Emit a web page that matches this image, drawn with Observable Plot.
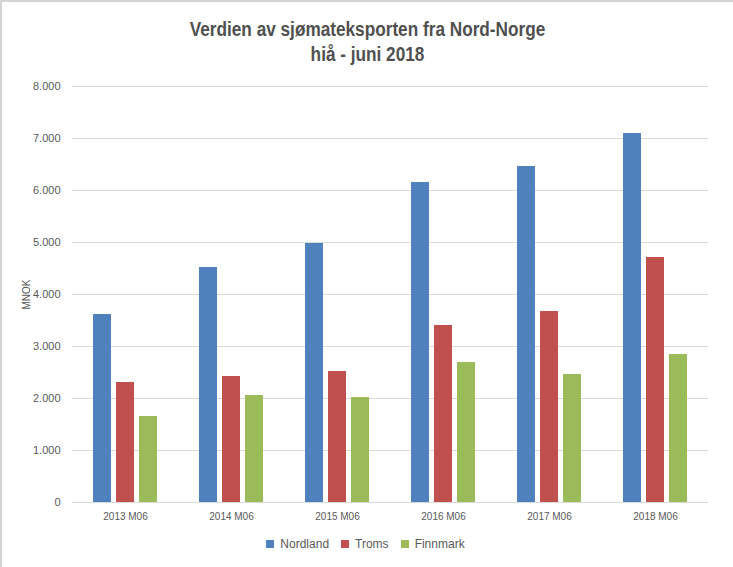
<!DOCTYPE html>
<html><head><meta charset="utf-8">
<script src="https://cdn.jsdelivr.net/npm/d3@7"></script>
<script src="https://cdn.jsdelivr.net/npm/@observablehq/plot@0.6"></script>
<style>
body{margin:0;background:#fff;}
#wrap{width:731px;height:565px;border-top:2px solid #d4d4d4;border-left:2px solid #d4d4d4;font-family:"Liberation Sans Narrow","Arial Narrow","Liberation Sans",sans-serif;color:#595959;overflow:hidden;}
#title{height:73px;box-sizing:border-box;padding-top:15px;text-align:center;font-size:20px;line-height:25px;font-weight:bold;color:#505050;transform:scaleX(0.86);transform-origin:center;}
#chart svg{display:block;}
#legend{display:flex;justify-content:center;padding-left:8px;height:24px;align-items:center;}
</style>
</head><body>
<div id="wrap">
<div id="title">Verdien av sjømateksporten fra Nord-Norge<br>hiå - juni 2018</div>
<div id="chart"></div>
<div id="legend"></div>
</div>
<script>
const years = ["2013 M06","2014 M06","2015 M06","2016 M06","2017 M06","2018 M06"];
const series = ["Nordland","Troms","Finnmark"];
const colors = ["#4f81bd","#c0504d","#9bbb59"];
const nordland = [3615,4519,4981,6154,6462,7096];
const troms = [2308,2423,2519,3404,3673,4712];
const finnmark = [1654,2058,2019,2692,2462,2846];
const yTicks = [0,1000,2000,3000,4000,5000,6000,7000,8000];

const data = years.flatMap((y,i)=>[
  {year:y, series:"Nordland", value:nordland[i]},
  {year:y, series:"Troms", value:troms[i]},
  {year:y, series:"Finnmark", value:finnmark[i]}
]);
const font = '"Liberation Sans Narrow","Arial Narrow","Liberation Sans",sans-serif';
const chart = Plot.plot({
  width:731, height:460,
  marginTop:11, marginLeft:68, marginRight:23, marginBottom:33,
  style:{fontFamily:font, fontSize:"10px", color:"#595959", background:"#fff"},
  facet:{data, x:"year", label:null},
  fx:{domain:years, padding:0, label:null, tickSize:0, tickPadding:10},
  x:{domain:series, axis:null, paddingInner:0.21, paddingOuter:0.83},
  y:{domain:[0,8000], ticks:8, tickSize:0, tickPadding:12, label:"MNOK", labelArrow:false, labelAnchor:"center", labelOffset:50,
     tickFormat:d=> d===0 ? "0" : d3.format(",")(d).replace(/,/g,".")},
  color:{domain:series, range:colors},
  marks:[
    Plot.ruleY(yTicks, {stroke:"#d9d9d9", strokeWidth:1}),
    Plot.barY(data, {x:"series", y:"value", fill:"series"})
  ]
});
chart.querySelectorAll('[aria-label^="y-axis tick label"] text, [aria-label="y-axis"] text').forEach(t=>{ if(t.textContent!=="MNOK") t.style.fontSize="11px"; });
document.getElementById("chart").appendChild(chart);
const leg = Plot.legend({color:{type:"ordinal", domain:series, range:colors}, swatchSize:8,
  style:{fontFamily:font, fontSize:"12px", color:"#595959"}});
document.getElementById("legend").appendChild(leg);
</script>
</body></html>
